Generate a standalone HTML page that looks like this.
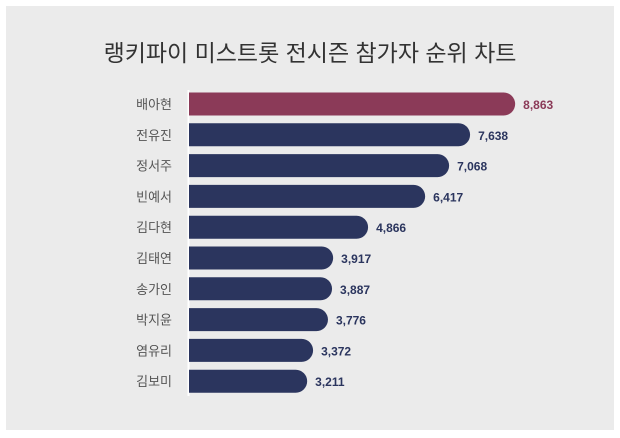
<!DOCTYPE html>
<html><head><meta charset="utf-8"><style>
body{margin:0;background:#fff;width:620px;height:438px;overflow:hidden}
#card{position:absolute;left:6px;top:6px;width:608px;height:424px;background:#ebebeb}
text{font-family:"Liberation Sans","Noto Sans CJK KR",sans-serif}
</style></head><body>
<div id="card"></div>
<svg id="chart" width="620" height="438" style="position:absolute;left:0;top:0">
<text x="310" y="61" text-anchor="middle" font-size="23" fill="#333">랭키파이 미스트롯 전시즌 참가자 순위 차트</text>
<line x1="188.5" y1="90" x2="188.5" y2="396" stroke="#fff" stroke-width="2"/>
</svg>
<script>
const names=["배아현","전유진","정서주","빈예서","김다현","김태연","송가인","박지윤","염유리","김보미"];
const values=[8863,7638,7068,6417,4866,3917,3887,3776,3372,3211];
const labels=["8,863","7,638","7,068","6,417","4,866","3,917","3,887","3,776","3,372","3,211"];
const svg=document.getElementById('chart');
const NS='http://www.w3.org/2000/svg';
const x0=189,k=0.0368;
function xs(v){return x0+v*k;}
function yc(i){return 104+i*30.8;}
names.forEach((n,i)=>{
  const h=23,y=yc(i)-h/2,w=xs(values[i])-x0,r=h/2;
  const col=i===0?'#8b3a58':'#2b355e';
  const p=document.createElementNS(NS,'path');
  p.setAttribute('d',`M${x0},${y}H${x0+w-r}A${r},${r} 0 0 1 ${x0+w-r},${y+h}H${x0}Z`);
  p.setAttribute('fill',col);
  
  
  svg.appendChild(p);
  const t=document.createElementNS(NS,'text');
  t.setAttribute('x',172);t.setAttribute('y',yc(i)+5);
  t.setAttribute('text-anchor','end');t.setAttribute('font-size','13');t.setAttribute('fill','#555');
  t.textContent=n;
  
  
  svg.appendChild(t);
  const v=document.createElementNS(NS,'text');
  v.setAttribute('x',x0+w+8);v.setAttribute('y',yc(i)+5);
  v.setAttribute('font-size','12');v.setAttribute('font-weight','bold');v.setAttribute('fill',i===0?'#8b3a58':'#2b355e');
  v.textContent=labels[i];
  
  
  svg.appendChild(v);
});
</script>
</body></html>
